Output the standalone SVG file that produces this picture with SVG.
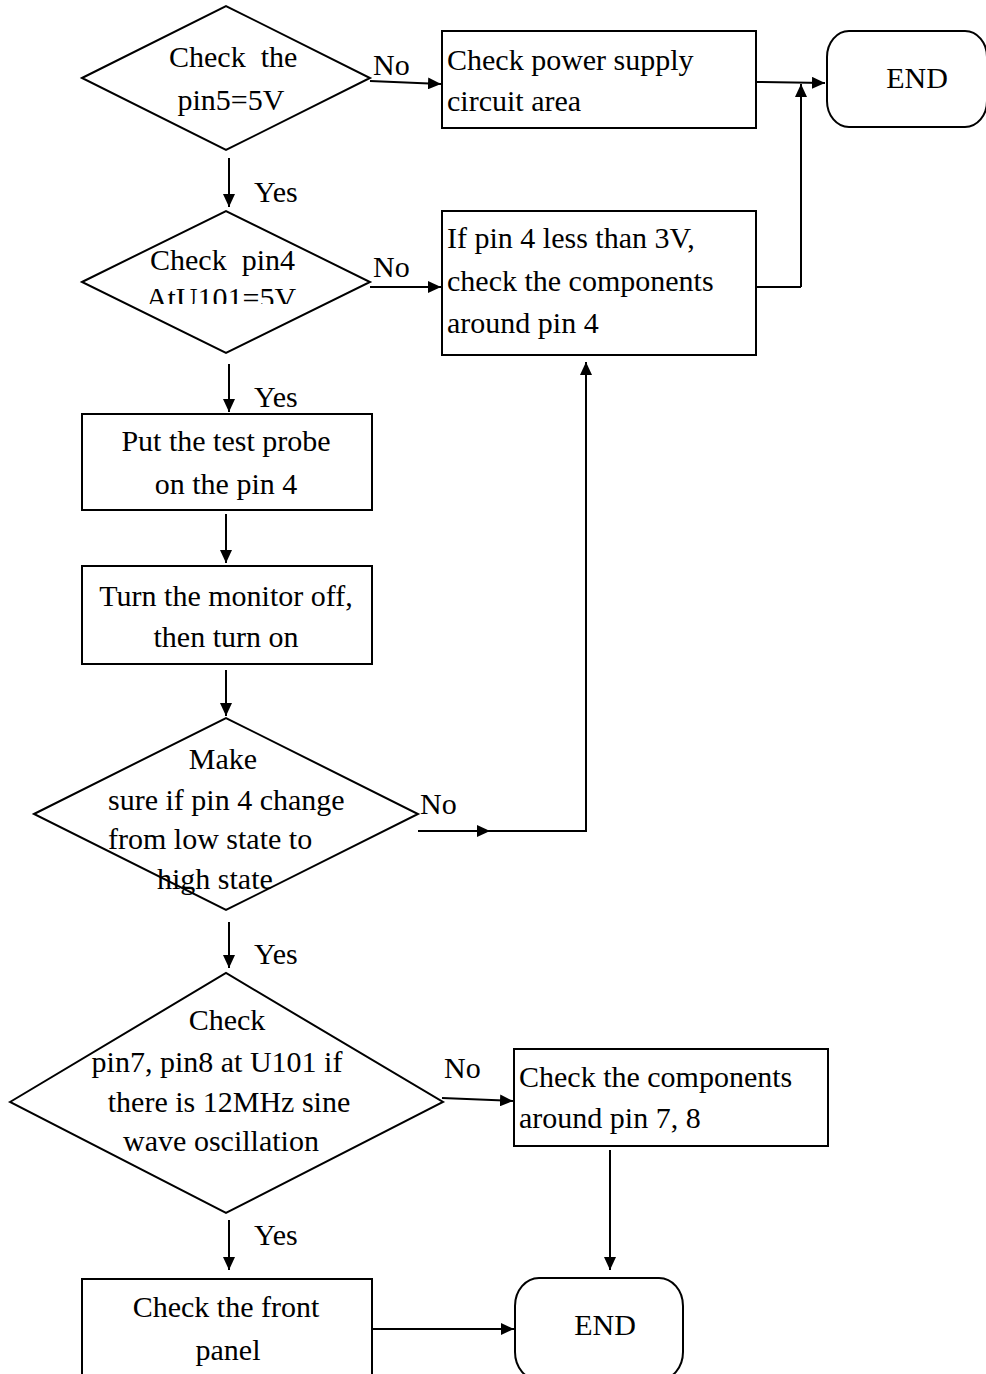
<svg xmlns="http://www.w3.org/2000/svg" width="986" height="1374" viewBox="0 0 986 1374">
<style>
.s{fill:#fff;stroke:#000;stroke-width:2}
.c{fill:none;stroke:#000;stroke-width:2}
text{font-family:"Liberation Serif","Times New Roman",serif;font-size:30px;fill:#000}
.m{text-anchor:middle}
</style>
<defs>
<marker id="a" markerUnits="userSpaceOnUse" markerWidth="14" markerHeight="12" refX="13" refY="6" orient="auto">
<path d="M0,0 L13,6 L0,12 Z" fill="#000"/>
</marker>
<clipPath id="clip2"><rect x="0" y="200" width="440" height="104"/></clipPath>
</defs>
<rect width="986" height="1374" fill="#fff"/>

<g id="connectors">
<line class="c" x1="370" y1="81" x2="441" y2="84" marker-end="url(#a)"/>
<line class="c" x1="756" y1="82" x2="825" y2="83" marker-end="url(#a)"/>
<line class="c" x1="756" y1="287" x2="801" y2="287"/>
<line class="c" x1="801" y1="287" x2="801" y2="84" marker-end="url(#a)"/>
<line class="c" x1="229" y1="158" x2="229" y2="207" marker-end="url(#a)"/>
<line class="c" x1="370" y1="287" x2="441" y2="287" marker-end="url(#a)"/>
<line class="c" x1="229" y1="364" x2="229" y2="412" marker-end="url(#a)"/>
<line class="c" x1="226" y1="514" x2="226" y2="563" marker-end="url(#a)"/>
<line class="c" x1="226" y1="670" x2="226" y2="716" marker-end="url(#a)"/>
<line class="c" x1="418" y1="831" x2="490" y2="831" marker-end="url(#a)"/>
<polyline class="c" points="488,831 586,831 586,364"/>
<line class="c" x1="586" y1="380" x2="586" y2="362" marker-end="url(#a)"/>
<line class="c" x1="229" y1="922" x2="229" y2="968" marker-end="url(#a)"/>
<line class="c" x1="442" y1="1098" x2="513" y2="1101" marker-end="url(#a)"/>
<line class="c" x1="610" y1="1150" x2="610" y2="1270" marker-end="url(#a)"/>
<line class="c" x1="229" y1="1220" x2="229" y2="1270" marker-end="url(#a)"/>
<line class="c" x1="372" y1="1329" x2="514" y2="1329" marker-end="url(#a)"/>
</g>

<g id="labels">
<text x="373" y="75">No</text>
<text x="373" y="277">No</text>
<text x="420" y="814">No</text>
<text x="444" y="1078">No</text>
<text x="254" y="202">Yes</text>
<text x="254" y="407">Yes</text>
<text x="254" y="964">Yes</text>
<text x="254" y="1245">Yes</text>
</g>

<g id="d1">
<polygon class="s" points="82,78 226,6 370,78 226,150"/>
<text x="169" y="67" xml:space="preserve">Check  the</text>
<text x="231" y="110" class="m">pin5=5V</text>
</g>

<g id="b1">
<rect class="s" x="442" y="31" width="314" height="97"/>
<text x="447" y="70">Check power supply</text>
<text x="447" y="111">circuit area</text>
</g>

<g id="end1">
<rect class="s" x="827" y="31" width="160" height="96" rx="22" ry="26"/>
<text x="917" y="88" class="m">END</text>
</g>

<g id="d2">
<polygon class="s" points="82,282 226,211 370,282 226,353"/>
<text x="150" y="270" xml:space="preserve">Check  pin4</text>
<text x="221" y="308" class="m" clip-path="url(#clip2)">AtU101=5V</text>
</g>

<g id="b2">
<rect class="s" x="442" y="211" width="314" height="144"/>
<text x="447" y="248">If pin 4 less than 3V,</text>
<text x="447" y="291">check the components</text>
<text x="447" y="333">around pin 4</text>
</g>

<g id="b3">
<rect class="s" x="82" y="414" width="290" height="96"/>
<text x="226" y="451" class="m">Put the test probe</text>
<text x="226" y="494" class="m">on the pin 4</text>
</g>

<g id="b4">
<rect class="s" x="82" y="566" width="290" height="98"/>
<text x="226" y="606" class="m">Turn the monitor off,</text>
<text x="226" y="647" class="m">then turn on</text>
</g>

<g id="d3">
<polygon class="s" points="34,814 226,718 418,814 226,910"/>
<text x="223" y="769" class="m">Make</text>
<text x="108" y="810">sure if pin 4 change</text>
<text x="108" y="849">from low state to</text>
<text x="157" y="889">high state</text>
</g>

<g id="d4">
<polygon class="s" points="10,1102 226,973 443,1102 226,1213"/>
<text x="227" y="1030" class="m">Check</text>
<text x="217" y="1072" class="m">pin7, pin8 at U101 if</text>
<text x="229" y="1112" class="m">there is 12MHz sine</text>
<text x="221" y="1151" class="m">wave oscillation</text>
</g>

<g id="b5">
<rect class="s" x="514" y="1049" width="314" height="97"/>
<text x="519" y="1087">Check the components</text>
<text x="519" y="1128">around pin 7, 8</text>
</g>

<g id="b6">
<rect class="s" x="82" y="1279" width="290" height="110"/>
<text x="226" y="1317" class="m">Check the front</text>
<text x="228" y="1360" class="m">panel</text>
</g>

<g id="end2">
<rect class="s" x="515" y="1278" width="168" height="102" rx="24" ry="28"/>
<text x="605" y="1335" class="m">END</text>
</g>
</svg>
